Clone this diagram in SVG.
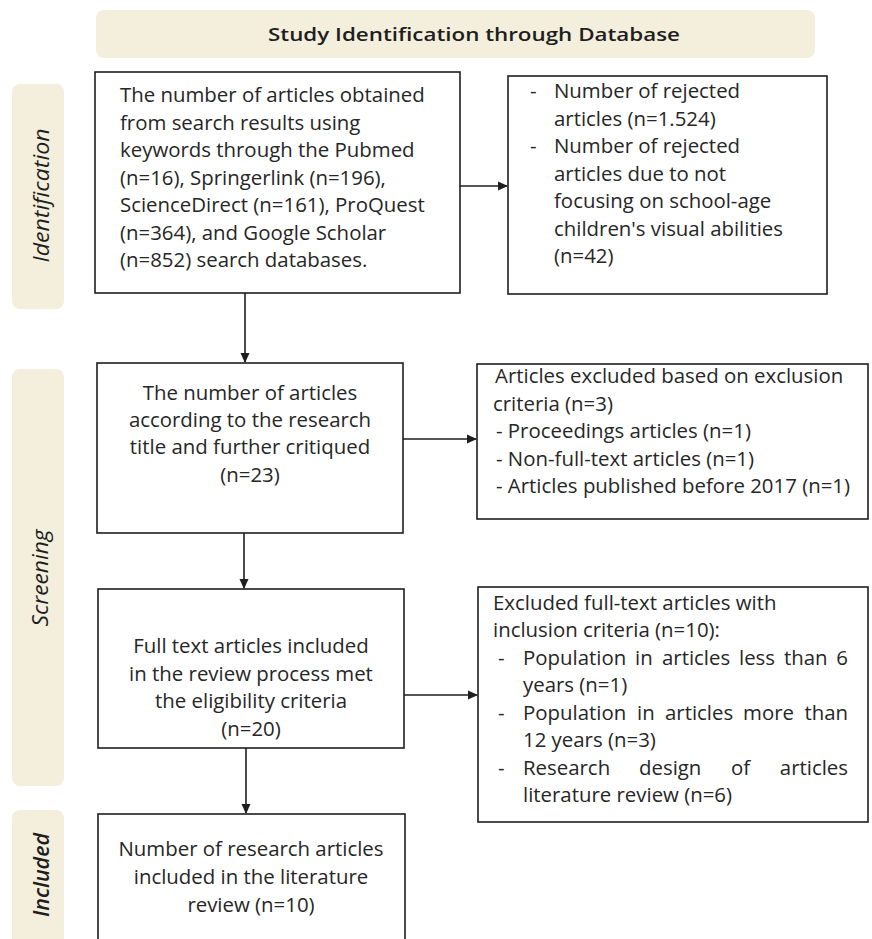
<svg xmlns="http://www.w3.org/2000/svg" width="872" height="939" viewBox="0 0 872 939">
<style>
.band{fill:#f4efdc;}
.box{fill:#ffffff;stroke:#1e1e1e;stroke-width:1.6;}
.t{font-family:"Open Sans","Noto Sans",sans-serif;font-size:20.4px;fill:#262626;}
.c{text-anchor:middle;}
.side{font-family:"Open Sans","Noto Sans",sans-serif;font-size:22px;font-style:italic;fill:#1e1e1e;text-anchor:middle;}
.title{font-family:"Open Sans","Noto Sans",sans-serif;font-size:18px;font-weight:600;fill:#1e1e1e;}
.edge{stroke:#1e1e1e;stroke-width:1.6;fill:none;marker-end:url(#ah);}
</style>
<defs>
<marker id="ah" markerWidth="10" markerHeight="10" refX="9" refY="5" orient="auto" markerUnits="userSpaceOnUse">
<path d="M0,0.5 L10,5 L0,9.5 Z" fill="#1e1e1e"/>
</marker>
</defs>
<rect width="872" height="939" fill="#ffffff"/>

<g id="title">
<rect class="band" x="96" y="10" width="719" height="48" rx="8"/>
<text class="title" x="268" y="41" textLength="412" lengthAdjust="spacingAndGlyphs">Study Identification through Database</text>
</g>

<g id="band-identification">
<rect class="band" x="12" y="84" width="52" height="225" rx="8"/>
<text class="side" transform="translate(49,195.5) rotate(-90)" textLength="134" lengthAdjust="spacingAndGlyphs">Identification</text>
</g>
<g id="band-screening">
<rect class="band" x="12" y="369" width="52" height="417" rx="8"/>
<text class="side" transform="translate(48,578) rotate(-90)" textLength="97" lengthAdjust="spacingAndGlyphs">Screening</text>
</g>
<g id="band-included">
<rect class="band" x="12" y="810" width="52" height="150" rx="8"/>
<text class="side" font-weight="600" transform="translate(49,875) rotate(-90)" textLength="84" lengthAdjust="spacingAndGlyphs">Included</text>
</g>

<g id="box-search">
<rect class="box" x="95" y="72" width="365" height="221"/>
<text class="t" x="120" y="102">The number of articles obtained</text>
<text class="t" x="120" y="129.5">from search results using</text>
<text class="t" x="120" y="157">keywords through the Pubmed</text>
<text class="t" x="120" y="184.5">(n=16), Springerlink (n=196),</text>
<text class="t" x="120" y="212">ScienceDirect (n=161), ProQuest</text>
<text class="t" x="120" y="239.5">(n=364), and Google Scholar</text>
<text class="t" x="120" y="267">(n=852) search databases.</text>
</g>

<g id="box-rejected">
<rect class="box" x="508" y="76" width="319" height="218"/>
<text class="t" x="530" y="98">-</text>
<text class="t" x="554" y="98">Number of rejected</text>
<text class="t" x="554" y="125.5">articles (n=1.524)</text>
<text class="t" x="530" y="153">-</text>
<text class="t" x="554" y="153">Number of rejected</text>
<text class="t" x="554" y="180.5">articles due to not</text>
<text class="t" x="554" y="208">focusing on school-age</text>
<text class="t" x="554" y="235.5">children's visual abilities</text>
<text class="t" x="554" y="263">(n=42)</text>
</g>

<g id="box-title-screen">
<rect class="box" x="97" y="363" width="306" height="170"/>
<text class="t c" x="250" y="400">The number of articles</text>
<text class="t c" x="250" y="427">according to the research</text>
<text class="t c" x="250" y="454">title and further critiqued</text>
<text class="t c" x="250" y="482">(n=23)</text>
</g>

<g id="box-excluded">
<rect class="box" x="477" y="364" width="391" height="155"/>
<text class="t" x="495" y="383">Articles excluded based on exclusion</text>
<text class="t" x="493" y="410.5">criteria (n=3)</text>
<text class="t" x="496" y="438">- Proceedings articles (n=1)</text>
<text class="t" x="496" y="465.5">- Non-full-text articles (n=1)</text>
<text class="t" x="496" y="493">- Articles published before 2017 (n=1)</text>
</g>

<g id="box-fulltext">
<rect class="box" x="98" y="589" width="306" height="159"/>
<text class="t c" x="251" y="653">Full text articles included</text>
<text class="t c" x="251" y="680.5">in the review process met</text>
<text class="t c" x="251" y="708">the eligibility criteria</text>
<text class="t c" x="251" y="736">(n=20)</text>
</g>

<g id="box-excluded-fulltext">
<rect class="box" x="478" y="587" width="390" height="235"/>
<text class="t" x="493" y="610">Excluded full-text articles with</text>
<text class="t" x="493" y="637">inclusion criteria (n=10):</text>
<text class="t" x="498" y="665">-</text>
<text class="t" y="665"><tspan x="523">Population</tspan><tspan x="635">in</tspan><tspan x="662">articles</tspan><tspan x="739">less</tspan><tspan x="784">than</tspan></text>
<text class="t" x="848" y="665" text-anchor="end">6</text>
<text class="t" x="523" y="692">years (n=1)</text>
<text class="t" x="498" y="720">-</text>
<text class="t" y="720"><tspan x="523">Population</tspan><tspan x="637">in</tspan><tspan x="665">articles</tspan><tspan x="743">more</tspan></text>
<text class="t" x="848" y="720" text-anchor="end">than</text>
<text class="t" x="523" y="747">12 years (n=3)</text>
<text class="t" x="498" y="775">-</text>
<text class="t" y="775"><tspan x="523">Research</tspan><tspan x="639">design</tspan><tspan x="731">of</tspan></text>
<text class="t" x="848" y="775" text-anchor="end">articles</text>
<text class="t" x="523" y="802">literature review (n=6)</text>
</g>

<g id="box-included">
<rect class="box" x="98" y="814" width="307" height="140"/>
<text class="t c" x="251" y="856">Number of research articles</text>
<text class="t c" x="251" y="884">included in the literature</text>
<text class="t c" x="251" y="912">review (n=10)</text>
</g>

<g id="connectors">
<line class="edge" x1="460" y1="186" x2="507" y2="186"/>
<line class="edge" x1="245" y1="293" x2="245" y2="362"/>
<line class="edge" x1="403" y1="439" x2="476" y2="439"/>
<line class="edge" x1="244" y1="533" x2="244" y2="588"/>
<line class="edge" x1="404" y1="695" x2="477" y2="695"/>
<line class="edge" x1="246" y1="748" x2="246" y2="813"/>
</g>
</svg>
